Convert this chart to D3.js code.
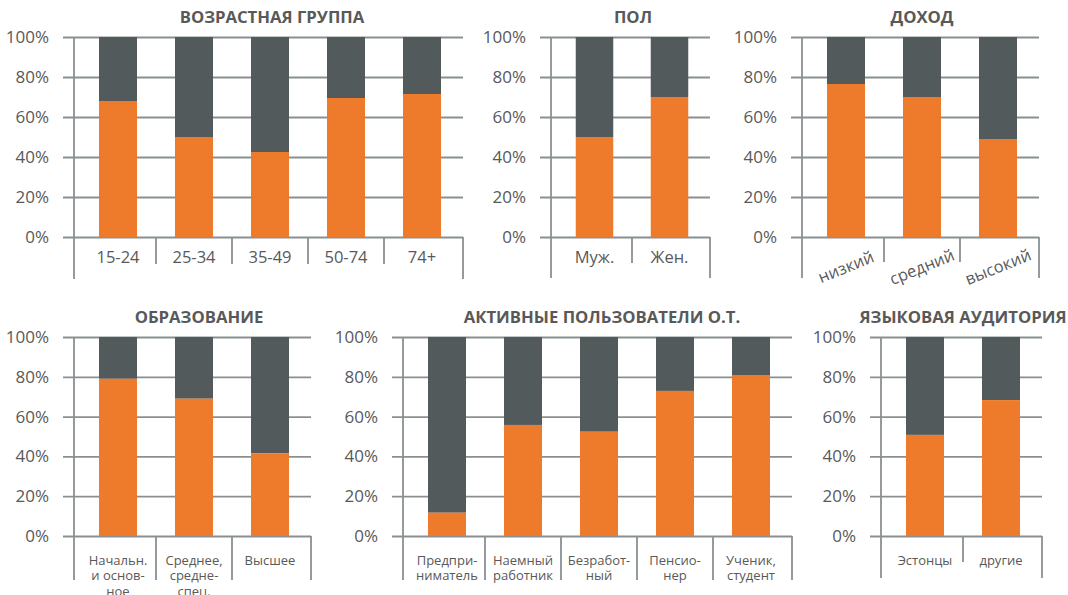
<!DOCTYPE html>
<html>
<head>
<meta charset="utf-8">
<script src="https://cdn.jsdelivr.net/npm/d3@7"></script>
<style>
  body { margin: 0; background: #fff; }
  svg { font-family: 'Open Sans', sans-serif; }
</style>
</head>
<body>
<div id="chart"></div>
<script>
// orange = share of the group, gray = remainder to 100%
const yTicks = [0, 20, 40, 60, 80, 100]

const ageCats = ['15-24', '25-34', '35-49', '50-74', '74+']
const ageShare = [68, 50, 42.5, 69.5, 71.5]

const sexCats = ['Муж.', 'Жен.']
const sexShare = [50, 70]

const incomeCats = ['низкий', 'средний', 'высокий']
const incomeShare = [76.5, 70, 49]

const eduCats = ['Начальн.|и основ-|ное', 'Среднее,|средне-|спец.', 'Высшее']
const eduShare = [79, 69, 41.5]

const occCats = ['Предпри-|ниматель', 'Наемный|работник', 'Безработ-|ный', 'Пенсио-|нер', 'Ученик,|студент']
const occShare = [11.7, 55.8, 52.4, 72.9, 80.9]

const langCats = ['Эстонцы', 'другие']
const langShare = [50.8, 68.3]

const ORANGE = '#ee7b2b'
const DARK = '#525a5c'
const GRID = '#8a9092'
const TXT = '#595959'

// layout of the six panels (ax = y axis x, gx = right end of gridlines)
const panels = [
    { title: 'ВОЗРАСТНАЯ ГРУППА', cats: ageCats, vals: ageShare, ax: 74, gx: 463, top: 37, bot: 237, tx: 272, ty: 23, div: 27, outer: 42, lab: 'plain' },
    { title: 'ПОЛ', cats: sexCats, vals: sexShare, ax: 551, gx: 710, top: 37, bot: 237, tx: 633, ty: 23, div: 26, outer: 41, lab: 'plain' },
    { title: 'ДОХОД', cats: incomeCats, vals: incomeShare, ax: 802, gx: 1039, top: 37, bot: 237, tx: 922, ty: 23, div: 25, outer: 41, lab: 'rot' },
    { title: 'ОБРАЗОВАНИЕ', cats: eduCats, vals: eduShare, ax: 74, gx: 311, top: 337, bot: 536, tx: 199, ty: 323, div: 44, outer: 44, lab: 'small' },
    { title: 'АКТИВНЫЕ ПОЛЬЗОВАТЕЛИ О.Т.', cats: occCats, vals: occShare, ax: 403, gx: 792, top: 337, bot: 536, tx: 602, ty: 323, div: 44, outer: 44, lab: 'small' },
    { title: 'ЯЗЫКОВАЯ АУДИТОРИЯ', cats: langCats, vals: langShare, ax: 881, gx: 1042, top: 337, bot: 536, tx: 963, ty: 323, div: 26, outer: 42, lab: 'small' }
]

const svg = d3.select('#chart').append('svg')
    .attr('width', 1068).attr('height', 595)

function vline(g, x, y1, y2) {
    g.append('line').attr('x1', x).attr('x2', x).attr('y1', y1).attr('y2', y2)
        .attr('stroke', GRID).attr('stroke-width', 1.8)
}

function drawPanel(p) {
    let y = d3.scaleLinear().domain([0, 100]).range([p.bot, p.top])
    let x = d3.scaleBand().domain(p.cats).range([p.ax + 6, p.gx - 3])
    let g = svg.append('g')

    // title
    g.append('text')
        .attr('x', p.tx).attr('y', p.ty)
        .attr('text-anchor', 'middle')
        .attr('fill', TXT)
        .style('font-size', '16.7px').style('font-weight', 'bold')
        .text(p.title)

    // gridlines with % labels
    g.append('g')
        .attr('transform', 'translate(' + (p.ax - 11) + ',0)')
        .call(d3.axisLeft(y).tickValues(yTicks).tickSize(-(p.gx - p.ax + 11)).tickPadding(14).tickFormat(d => d + '%'))
        .call(a => a.select('.domain').remove())
        .call(a => a.selectAll('line').attr('stroke', GRID).attr('stroke-width', 1.8))
        .call(a => a.selectAll('text').attr('fill', TXT).style('font-size', '17px').style('font-family', "'Open Sans', sans-serif"))

    // bars
    let bw = x.bandwidth() / 2
    let data = p.cats.map((c, i) => ({ c: c, v: p.vals[i] }))
    g.selectAll('rect.rest').data(data).enter().append('rect')
        .attr('class', 'rest')
        .attr('x', d => x(d.c) + x.bandwidth() / 2 - bw / 2)
        .attr('width', bw)
        .attr('y', y(100))
        .attr('height', d => y(d.v) - y(100))
        .attr('fill', DARK)
    g.selectAll('rect.share').data(data).enter().append('rect')
        .attr('class', 'share')
        .attr('x', d => x(d.c) + x.bandwidth() / 2 - bw / 2)
        .attr('width', bw)
        .attr('y', d => y(d.v))
        .attr('height', d => y(0) - y(d.v))
        .attr('fill', ORANGE)

    // category axis lines
    vline(g, p.ax, y(100), p.bot + p.outer)
    vline(g, p.gx, y(0), p.bot + p.outer)
    p.cats.slice(1).forEach(c => vline(g, x(c), y(0), p.bot + p.div))

    // category labels
    p.cats.forEach(c => {
        let cx = x(c) + x.bandwidth() / 2
        if (p.lab === 'plain') {
            g.append('text').attr('x', cx).attr('y', p.bot + 26)
                .attr('text-anchor', 'middle').attr('fill', TXT)
                .style('font-size', '16.5px').text(c)
        } else if (p.lab === 'rot') {
            g.append('text')
                .attr('transform', 'translate(' + cx + ',' + (p.bot + 30) + ') rotate(-22)')
                .attr('text-anchor', 'middle').attr('dy', '0.35em').attr('fill', TXT)
                .style('font-size', '16.5px').text(c)
        } else {
            let t = g.append('text').attr('text-anchor', 'middle').attr('fill', TXT)
                .style('font-size', '13px')
            c.split('|').forEach((s, k) => {
                t.append('tspan').attr('x', cx).attr('y', p.bot + 28.5 + k * 15.5).text(s)
            })
        }
    })
}

panels.forEach(drawPanel)
</script>
</body>
</html>
